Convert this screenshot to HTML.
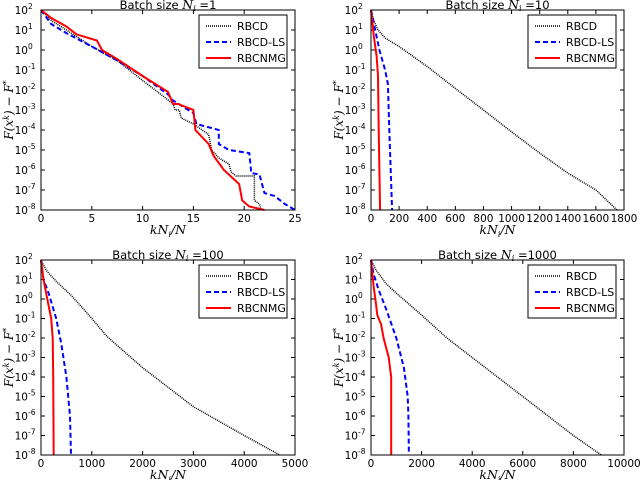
<!DOCTYPE html>
<html><head><meta charset="utf-8"><style>
body{margin:0;background:#fff;}
svg{display:block;font-family:"DejaVu Sans","Liberation Sans",sans-serif;}
.m{font-family:"DejaVu Serif","Liberation Serif",serif;font-style:italic;}
</style></head><body>
<svg id="fig" width="640" height="480"></svg>
<script>
const panelTitles=["1","10","100","1000"];
const xMaxes=[25,1800,5000,10000];
const xTickSets=[[0,5,10,15,20,25],[0,200,400,600,800,1000,1200,1400,1600,1800],[0,1000,2000,3000,4000,5000],[0,2000,4000,6000,8000,10000]];
const yExps=[2,1,0,-1,-2,-3,-4,-5,-6,-7,-8];
const seriesNames=["RBCD","RBCD-LS","RBCNMG"];
// panel 1
const p1RBCD=[[0,100],[1,30],[2.5,10],[5,1.5],[7.5,0.3],[10,0.03],[12,0.005],[13,0.002],[13.2,0.001],[13.6,0.001],[13.8,4e-4],[15,2e-4],[16.5,6e-5],[16.8,1e-5],[17.5,4e-6],[18.5,2e-6],[18.7,8e-7],[19.2,5e-7],[21,5e-7],[21,3e-8],[21.5,2e-8],[21.7,1e-8]];
const p1LS=[[0,100],[1,20],[2.5,7],[5,1.5],[7.5,0.3],[10,0.05],[12.5,0.006],[13,0.003],[15,7e-4],[15.3,2e-4],[17.5,1e-4],[17.5,2e-5],[18.5,1e-5],[20.5,7e-6],[20.7,7e-7],[21.5,6e-7],[22,7e-8],[23,5e-8],[24,2e-8],[25,1e-8]];
const p1NMG=[[0,100],[1,40],[2.5,15],[3.5,6],[5.5,3],[6,1],[7.5,0.35],[10,0.05],[12.5,0.008],[13,0.002],[13.5,2e-3],[15,1e-3],[15.2,1e-4],[16.5,2e-5],[17,5e-6],[18,1e-6],[19.5,2e-7],[19.8,3e-8],[20.5,1.5e-8],[22,1e-8]];
// panel 2
const p2RBCD=[[0,100],[20,30],[50,10],[100,4],[200,1.5],[400,0.15],[600,0.012],[800,1e-3],[1000,8e-5],[1200,7e-6],[1400,7e-7],[1600,1e-7],[1750,1e-8]];
const p2LS=[[0,100],[30,10],[60,1],[100,0.1],[120,0.02],[130,1e-4],[140,1e-6],[150,1e-8]];
const p2NMG=[[0,100],[20,5],[40,0.5],[50,0.05],[55,1e-4],[60,1e-6],[65,1e-8]];
// panel 3
const p3RBCD=[[0,100],[100,30],[300,8],[600,1.5],[1000,0.1],[1300,0.012],[2000,3e-4],[2500,3e-5],[3000,3e-6],[4000,1e-7],[4700,1e-8]];
const p3LS=[[0,100],[50,10],[150,2],[300,0.1],[400,0.005],[500,1e-4],[570,1e-6],[590,1e-8]];
const p3NMG=[[0,100],[50,10],[100,2],[200,0.1],[230,0.01],[240,1e-4],[250,1e-8]];
// panel 4
const p4RBCD=[[0,100],[200,30],[600,6],[1000,2],[2000,0.15],[3000,0.01],[4000,1e-3],[6000,1e-5],[8000,1e-7],[9100,1e-8]];
const p4LS=[[0,100],[100,20],[300,3],[600,0.3],[1000,0.01],[1300,3e-4],[1450,1e-5],[1480,1e-6],[1500,1e-8]];
const p4NMG=[[0,100],[100,5],[200,0.5],[250,0.15],[400,0.05],[500,0.01],[700,1e-3],[800,1e-4],[800,1e-6],[800,1e-8]];
const panelData=[[p1RBCD,p1LS,p1NMG],[p2RBCD,p2LS,p2NMG],[p3RBCD,p3LS,p3NMG],[p4RBCD,p4LS,p4NMG]];

const NS="http://www.w3.org/2000/svg";
const fig=document.getElementById('fig');
function mk(tag,attrs,parent){const e=document.createElementNS(NS,tag);for(const k in attrs)e.setAttribute(k,attrs[k]);parent.appendChild(e);return e;}
const boxes=[[41,10,295,210],[371,10,624,210],[41,260,295,455],[371,260,624,455]];
const styles=[{stroke:"#000",dash:"1,1",w:1.5},{stroke:"#0000ff",dash:"5,3",w:2},{stroke:"#ff0000",dash:"",w:2}];
const panelNames=["n1","n10","n100","n1000"];
boxes.forEach((b,pi)=>{
  const [x0,y0,x1,y1]=b;
  const g=mk('g',{},fig);
  
  
  const xs=v=>x0+(v/xMaxes[pi])*(x1-x0);
  const ys=v=>y0+(2-Math.log10(v))/10*(y1-y0);
  xTickSets[pi].forEach(t=>{
    const X=xs(t);
    mk('line',{x1:X,x2:X,y1:y1,y2:y1-4,stroke:"#000"},g);
    mk('line',{x1:X,x2:X,y1:y0,y2:y0+4,stroke:"#000"},g);
    const tx=mk('text',{x:X,y:y1+12,"font-size":"10.5","text-anchor":"middle"},g);
    tx.textContent=t;
    
    
  });
  yExps.forEach(e=>{
    const Y=y0+(2-e)/10*(y1-y0);
    mk('line',{x1:x0,x2:x0+4,y1:Y,y2:Y,stroke:"#000"},g);
    mk('line',{x1:x1,x2:x1-4,y1:Y,y2:Y,stroke:"#000"},g);
    const tx=mk('text',{x:x0-13,y:Y+4,"font-size":"10.5","text-anchor":"end"},g);
    tx.textContent="10";
    
    
    const sp=mk('text',{x:x0-13,y:Y-1,"font-size":"7.5","text-anchor":"start"},g);
    sp.textContent=String(e);
  });
  panelData[pi].forEach((s,si)=>{
    const st=styles[si];
    const pts=s.map(p=>xs(p[0]).toFixed(1)+","+ys(p[1]).toFixed(1)).join(" ");
    const pl=mk('polyline',{points:pts,fill:"none",stroke:st.stroke,"stroke-width":st.w,"stroke-dasharray":st.dash},g);
    
    
  });
  mk('rect',{x:x0,y:y0,width:x1-x0,height:y1-y0,fill:"none",stroke:"#000","stroke-width":1},g);
  const t=mk('text',{x:(x0+x1)/2,y:y0-1,"font-size":"11.5","text-anchor":"middle"},g);
  
  
  t.innerHTML='Batch size <tspan class="m" font-size="12.5">N</tspan><tspan class="m" font-size="8" dy="2">i</tspan><tspan dy="-2"> =</tspan>'+panelTitles[pi];
  const xl=mk('text',{x:(x0+x1)/2,y:y1+24,"font-size":"12.5","text-anchor":"middle",class:"m"},g);
  
  
  xl.innerHTML='kN<tspan font-size="8" dy="3">i</tspan><tspan dy="-3">/N</tspan>';
  const yl=mk('text',{x:0,y:0,"font-size":"12","text-anchor":"middle",class:"m",transform:"translate("+(x0-28)+","+((y0+y1)/2)+") rotate(-90)"},g);
  
  
  yl.innerHTML='F(x<tspan font-size="8" dy="-4">k</tspan><tspan dy="4">) − F</tspan><tspan font-size="8" dy="-4">*</tspan>';
  const lg=mk('g',{},g);
  
  
  const lx=x1-96, ly=y0+5;
  mk('rect',{x:lx,y:ly,width:88,height:53,fill:"#fff",stroke:"#000","stroke-width":1},lg);
  seriesNames.forEach((n,si)=>{
    const st=styles[si];
    const Y=ly+11+si*16;
    mk('line',{x1:lx+7,x2:lx+32,y1:Y,y2:Y,stroke:st.stroke,"stroke-width":st.w,"stroke-dasharray":st.dash},lg);
    const tx=mk('text',{x:lx+38,y:Y+4,"font-size":"11"},lg);
    tx.textContent=n;
    
    
  });
});
</script>
</body></html>
